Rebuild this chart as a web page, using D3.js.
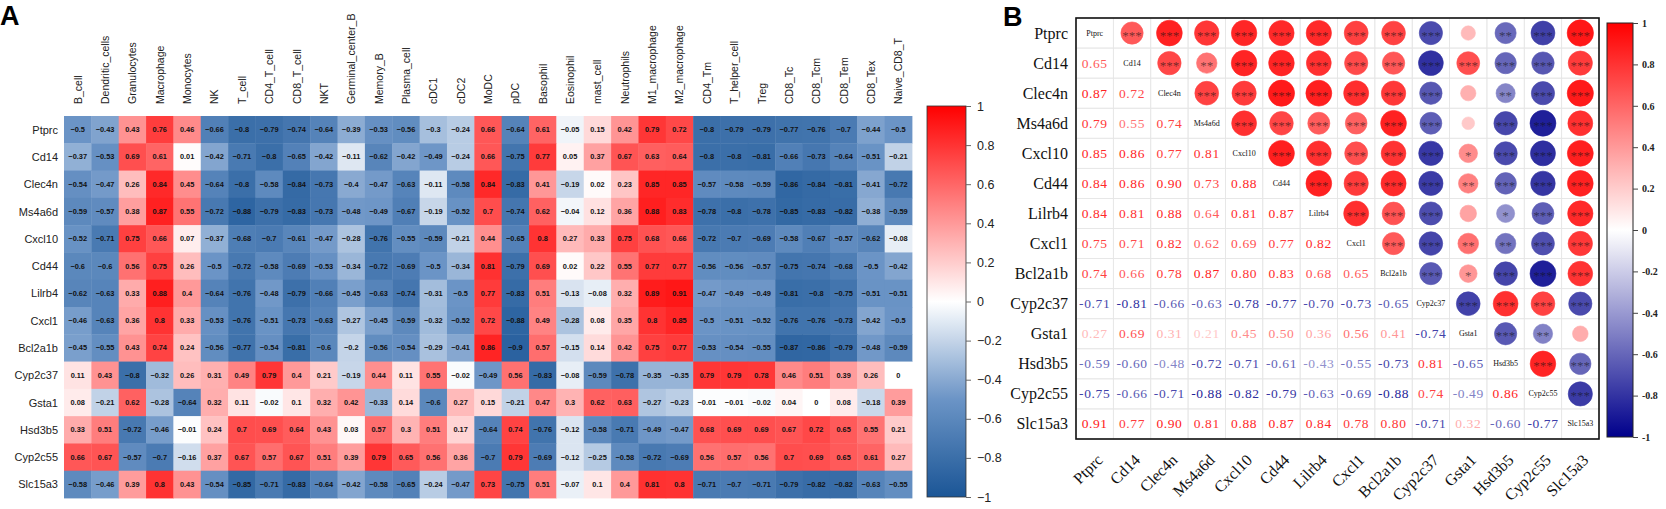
<!DOCTYPE html>
<html>
<head>
<meta charset="utf-8">
<script src="https://cdn.jsdelivr.net/npm/d3@7"></script>
<style>
	body { margin: 0; background: #fff; }
	svg { display: block; }
</style>
</head>
<body>
<svg id="main" width="1666" height="509"></svg>
<script>

// ---- data ----
const cellTypes = ['B_cell', 'Dendritic_cells', 'Granulocytes', 'Macrophage', 'Monocytes', 'NK',
	'T_cell', 'CD4_T_cell', 'CD8_T_cell', 'NKT', 'Germinal_center_B', 'Memory_B', 'Plasma_cell',
	'cDC1', 'cDC2', 'MoDC', 'pDC', 'Basophil', 'Eosinophil', 'mast_cell', 'Neutrophils',
	'M1_macrophage', 'M2_macrophage', 'CD4_Tm', 'T_helper_cell', 'Treg', 'CD8_Tc', 'CD8_Tcm',
	'CD8_Tem', 'CD8_Tex', 'Naive_CD8_T'];

const genes = ['Ptprc', 'Cd14', 'Clec4n', 'Ms4a6d', 'Cxcl10', 'Cd44', 'Lilrb4', 'Cxcl1',
	'Bcl2a1b', 'Cyp2c37', 'Gsta1', 'Hsd3b5', 'Cyp2c55', 'Slc15a3'];

// panel A: one row per gene, one value per cell type
const heatValues = [
	[-0.5, -0.43, 0.43, 0.76, 0.46, -0.66, -0.8, -0.79, -0.74, -0.64, -0.39, -0.53, -0.56, -0.3, -0.24, 0.66, -0.64, 0.61, -0.05, 0.15, 0.42, 0.79, 0.72, -0.8, -0.79, -0.79, -0.77, -0.76, -0.7, -0.44, -0.5],
	[-0.37, -0.53, 0.69, 0.61, 0.01, -0.42, -0.71, -0.8, -0.65, -0.42, -0.11, -0.62, -0.42, -0.49, -0.24, 0.66, -0.75, 0.77, 0.05, 0.37, 0.67, 0.63, 0.64, -0.8, -0.8, -0.81, -0.66, -0.73, -0.64, -0.51, -0.21],
	[-0.54, -0.47, 0.26, 0.84, 0.45, -0.64, -0.8, -0.58, -0.84, -0.73, -0.4, -0.47, -0.63, -0.11, -0.58, 0.84, -0.83, 0.41, -0.19, 0.02, 0.23, 0.85, 0.85, -0.57, -0.58, -0.59, -0.86, -0.84, -0.81, -0.41, -0.72],
	[-0.59, -0.57, 0.38, 0.87, 0.55, -0.72, -0.88, -0.79, -0.83, -0.73, -0.48, -0.49, -0.67, -0.19, -0.52, 0.7, -0.74, 0.62, -0.04, 0.12, 0.36, 0.88, 0.83, -0.78, -0.8, -0.78, -0.85, -0.83, -0.82, -0.38, -0.59],
	[-0.52, -0.71, 0.75, 0.66, 0.07, -0.37, -0.68, -0.7, -0.61, -0.47, -0.28, -0.76, -0.55, -0.59, -0.21, 0.44, -0.65, 0.8, 0.27, 0.33, 0.75, 0.68, 0.66, -0.72, -0.7, -0.69, -0.58, -0.67, -0.57, -0.62, -0.08],
	[-0.6, -0.6, 0.56, 0.75, 0.26, -0.5, -0.72, -0.58, -0.69, -0.53, -0.34, -0.72, -0.69, -0.5, -0.34, 0.81, -0.79, 0.69, 0.02, 0.22, 0.55, 0.77, 0.77, -0.56, -0.56, -0.57, -0.75, -0.74, -0.68, -0.5, -0.42],
	[-0.62, -0.63, 0.33, 0.88, 0.4, -0.64, -0.76, -0.48, -0.79, -0.66, -0.45, -0.63, -0.74, -0.31, -0.5, 0.77, -0.83, 0.51, -0.13, -0.08, 0.32, 0.89, 0.91, -0.47, -0.49, -0.49, -0.81, -0.8, -0.75, -0.51, -0.51],
	[-0.46, -0.63, 0.36, 0.8, 0.33, -0.53, -0.76, -0.51, -0.73, -0.63, -0.27, -0.45, -0.59, -0.32, -0.52, 0.72, -0.88, 0.49, -0.28, 0.08, 0.35, 0.8, 0.85, -0.5, -0.51, -0.52, -0.76, -0.76, -0.73, -0.42, -0.5],
	[-0.45, -0.55, 0.43, 0.74, 0.24, -0.56, -0.77, -0.54, -0.81, -0.6, -0.2, -0.56, -0.54, -0.29, -0.41, 0.86, -0.9, 0.57, -0.15, 0.14, 0.42, 0.75, 0.77, -0.53, -0.54, -0.55, -0.87, -0.86, -0.79, -0.48, -0.59],
	[0.11, 0.43, -0.8, -0.32, 0.26, 0.31, 0.49, 0.79, 0.4, 0.21, -0.19, 0.44, 0.11, 0.55, -0.02, -0.49, 0.56, -0.83, -0.08, -0.59, -0.78, -0.35, -0.35, 0.79, 0.79, 0.78, 0.46, 0.51, 0.39, 0.26, 0],
	[0.08, -0.21, 0.62, -0.28, -0.64, 0.32, 0.11, -0.02, 0.1, 0.32, 0.42, -0.33, 0.14, -0.6, 0.27, 0.15, -0.21, 0.47, 0.3, 0.62, 0.63, -0.27, -0.23, -0.01, -0.01, -0.02, 0.04, 0, 0.08, -0.18, 0.39],
	[0.33, 0.51, -0.72, -0.46, -0.01, 0.24, 0.7, 0.69, 0.64, 0.43, 0.03, 0.57, 0.3, 0.51, 0.17, -0.64, 0.74, -0.76, -0.12, -0.58, -0.71, -0.49, -0.47, 0.68, 0.69, 0.69, 0.67, 0.72, 0.65, 0.55, 0.21],
	[0.66, 0.67, -0.57, -0.7, -0.16, 0.37, 0.67, 0.57, 0.67, 0.51, 0.39, 0.79, 0.65, 0.56, 0.36, -0.7, 0.79, -0.69, -0.12, -0.25, -0.58, -0.72, -0.69, 0.56, 0.57, 0.56, 0.7, 0.69, 0.65, 0.61, 0.27],
	[-0.58, -0.46, 0.39, 0.8, 0.43, -0.54, -0.85, -0.71, -0.83, -0.64, -0.42, -0.58, -0.65, -0.24, -0.47, 0.73, -0.75, 0.51, -0.07, 0.1, 0.4, 0.81, 0.8, -0.71, -0.7, -0.71, -0.79, -0.82, -0.82, -0.63, -0.55]
];

// panel B: lower triangle of the gene-gene correlation matrix (row i holds columns 0..i-1)
const corrLower = [
	[0.65],
	[0.87, 0.72],
	[0.79, 0.55, 0.74],
	[0.85, 0.86, 0.77, 0.81],
	[0.84, 0.86, 0.90, 0.73, 0.88],
	[0.84, 0.81, 0.88, 0.64, 0.81, 0.87],
	[0.75, 0.71, 0.82, 0.62, 0.69, 0.77, 0.82],
	[0.74, 0.66, 0.78, 0.87, 0.80, 0.83, 0.68, 0.65],
	[-0.71, -0.81, -0.66, -0.63, -0.78, -0.77, -0.70, -0.73, -0.65],
	[0.27, 0.69, 0.31, 0.21, 0.45, 0.50, 0.36, 0.56, 0.41, -0.74],
	[-0.59, -0.60, -0.48, -0.72, -0.71, -0.61, -0.43, -0.55, -0.73, 0.81, -0.65],
	[-0.75, -0.66, -0.71, -0.88, -0.82, -0.79, -0.63, -0.69, -0.88, 0.74, -0.49, 0.86],
	[0.91, 0.77, 0.90, 0.81, 0.88, 0.87, 0.84, 0.78, 0.80, -0.71, 0.32, -0.60, -0.77]
];

// |r| cut-offs for *, **, ***
const starCuts = [0.40, 0.47, 0.60];

const legendTicks = [1, 0.8, 0.6, 0.4, 0.2, 0, -0.2, -0.4, -0.6, -0.8, -1];


main();

function main() {

	let svg = d3.select('#main');

	svg.append('rect')
		.attr('width', 1666)
		.attr('height', 509)
		.attr('fill', '#fff');

	drawHeatmap(svg);
	drawCorrplot(svg);
}

function drawHeatmap(svg) {

	let
		left = 64, top = 116,
		right = 912, bottom = 498;

	let x = d3.scaleBand().domain(cellTypes).range([left, right]);
	let y = d3.scaleBand().domain(genes).range([top, bottom]);

	let color = d3.scaleLinear()
		.domain([-1, -0.5, 0, 0.5, 1])
		.range(['#1b5696', '#6b94c6', '#ffffff', '#ff8080', '#ff0000'])
		.clamp(true);

	let cells = genes.flatMap((g, i) => cellTypes.map((c, j) => ({ gene: g, cell: c, value: heatValues[i][j] })));

	let g = svg.append('g');

	g.selectAll('.cell')
		.data(cells)
		.join('rect')
		.attr('class', 'cell')
		.attr('x', d => x(d.cell))
		.attr('y', d => y(d.gene))
		.attr('width', x.bandwidth() + 0.4)
		.attr('height', y.bandwidth() + 0.4)
		.attr('fill', d => color(d.value));

	g.selectAll('.num')
		.data(cells)
		.join('text')
		.attr('class', 'num')
		.attr('x', d => x(d.cell) + x.bandwidth() / 2)
		.attr('y', d => y(d.gene) + y.bandwidth() / 2)
		.attr('text-anchor', 'middle')
		.attr('dominant-baseline', 'central')
		.style('font', 'bold 7.4px "Liberation Sans", Arial, sans-serif')
		.attr('fill', '#111')
		.text(d => String(d.value).replace('-', '\u2212'));

	// row labels
	g.selectAll('.rowlab')
		.data(genes)
		.join('text')
		.attr('class', 'rowlab')
		.attr('x', left - 6)
		.attr('y', d => y(d) + y.bandwidth() / 2)
		.attr('text-anchor', 'end')
		.attr('dominant-baseline', 'central')
		.style('font', '11px "Liberation Sans", Arial, sans-serif')
		.attr('fill', '#222')
		.text(d => d);

	// column labels
	g.selectAll('.collab')
		.data(cellTypes)
		.join('text')
		.attr('class', 'collab')
		.attr('transform', d => `translate(${x(d) + x.bandwidth() / 2},${top - 12}) rotate(-90)`)
		.attr('dominant-baseline', 'central')
		.style('font', '10.5px "Liberation Sans", Arial, sans-serif')
		.attr('fill', '#222')
		.text(d => d);

	// legend
	let lx = 927, lw = 39, ly0 = 106, ly1 = 497;
	let grad = svg.append('defs').append('linearGradient')
		.attr('id', 'gradA')
		.attr('x1', 0).attr('y1', 1).attr('x2', 0).attr('y2', 0);
	d3.range(0, 1.0001, 0.05).forEach(t => {
		grad.append('stop')
			.attr('offset', t)
			.attr('stop-color', color(-1 + 2 * t));
	});

	svg.append('rect')
		.attr('x', lx).attr('y', ly0)
		.attr('width', lw).attr('height', ly1 - ly0)
		.attr('fill', 'url(#gradA)')
		.attr('stroke', '#333')
		.attr('stroke-width', 0.8);

	let ls = d3.scaleLinear().domain([-1, 1]).range([ly1, ly0]);
	let axis = svg.append('g')
		.attr('transform', `translate(${lx + lw},0)`)
		.call(d3.axisRight(ls).tickValues(legendTicks).tickSize(5).tickPadding(6).tickFormat(d3.format('')));
	axis.select('.domain').remove();
	axis.selectAll('line').attr('stroke', '#666');
	axis.selectAll('text')
		.style('font', '12.5px "Liberation Sans", Arial, sans-serif')
		.attr('fill', '#222');

	svg.append('text')
		.attr('x', 0)
		.attr('y', 25)
		.style('font', 'bold 27px "Liberation Sans", Arial, sans-serif')
		.attr('fill', '#000')
		.text('A');
}

function drawCorrplot(svg) {

	let
		left = 1076, top = 18,
		right = 1599, bottom = 439;

	let x = d3.scaleBand().domain(genes).range([left, right]);
	let y = d3.scaleBand().domain(genes).range([top, bottom]);

	let color = d3.scaleLinear()
		.domain([-1, 0, 1])
		.range(['#00008b', '#ffffff', '#ff0000'])
		.clamp(true);

	let corr = (i, j) => i == j ? 1 : (i > j ? corrLower[i - 1][j] : corrLower[j - 1][i]);

	let cells = [];
	genes.forEach((gi, i) => {
		genes.forEach((gj, j) => {
			cells.push({ row: gi, col: gj, i: i, j: j, value: corr(i, j) });
		});
	});

	let stars = v => {
		let a = Math.abs(v);
		return a >= starCuts[2] ? '***' : a >= starCuts[1] ? '**' : a >= starCuts[0] ? '*' : '';
	};

	let cx = d => x(d.col) + x.bandwidth() / 2;
	let cy = d => y(d.row) + y.bandwidth() / 2;

	let g = svg.append('g');

	// grid
	g.selectAll('.grid')
		.data(cells)
		.join('rect')
		.attr('class', 'grid')
		.attr('x', d => x(d.col))
		.attr('y', d => y(d.row))
		.attr('width', x.bandwidth())
		.attr('height', y.bandwidth())
		.attr('fill', 'none')
		.attr('stroke', '#e6e6e6')
		.attr('stroke-width', 0.8);

	let upper = cells.filter(d => d.j > d.i);
	let lower = cells.filter(d => d.j < d.i);
	let diag = cells.filter(d => d.j == d.i);

	g.selectAll('.dot')
		.data(upper)
		.join('circle')
		.attr('class', 'dot')
		.attr('cx', cx)
		.attr('cy', cy)
		.attr('r', d => 13.8 * Math.sqrt(Math.abs(d.value)))
		.attr('fill', d => color(d.value))
		.attr('stroke', d => color(d.value))
		.attr('stroke-width', 0.6);

	g.selectAll('.star')
		.data(upper)
		.join('text')
		.attr('class', 'star')
		.attr('x', cx)
		.attr('y', d => cy(d) + 6.5)
		.attr('text-anchor', 'middle')
		.style('font', '13px "Liberation Serif", "Times New Roman", serif')
		.attr('fill', '#111')
		.attr('fill-opacity', 0.6)
		.text(d => stars(d.value));

	g.selectAll('.coef')
		.data(lower)
		.join('text')
		.attr('class', 'coef')
		.attr('x', cx)
		.attr('y', cy)
		.attr('text-anchor', 'middle')
		.attr('dominant-baseline', 'central')
		.style('font', '13.5px "Liberation Serif", "Times New Roman", serif')
		.style('letter-spacing', '0.6px')
		.attr('fill', d => color(d.value))
		.text(d => d3.format('.2f')(d.value).replace('\u2212', '-'));

	g.selectAll('.diag')
		.data(diag)
		.join('text')
		.attr('class', 'diag')
		.attr('x', cx)
		.attr('y', cy)
		.attr('text-anchor', 'middle')
		.attr('dominant-baseline', 'central')
		.style('font', '8px "Liberation Serif", "Times New Roman", serif')
		.attr('fill', '#111')
		.text(d => d.row);

	g.append('rect')
		.attr('x', left).attr('y', top)
		.attr('width', right - left).attr('height', bottom - top)
		.attr('fill', 'none')
		.attr('stroke', '#111')
		.attr('stroke-width', 1.6);

	g.selectAll('.rowlab')
		.data(genes)
		.join('text')
		.attr('class', 'rowlab')
		.attr('x', left - 8)
		.attr('y', d => y(d) + y.bandwidth() / 2)
		.attr('text-anchor', 'end')
		.attr('dominant-baseline', 'central')
		.style('font', '16px "Liberation Serif", "Times New Roman", serif')
		.attr('fill', '#111')
		.text(d => d);

	g.selectAll('.collab')
		.data(genes)
		.join('text')
		.attr('class', 'collab')
		.attr('transform', d => `translate(${x(d) + x.bandwidth() / 2 + 9},${bottom + 22}) rotate(-45)`)
		.attr('text-anchor', 'end')
		.style('font', '16px "Liberation Serif", "Times New Roman", serif')
		.attr('fill', '#111')
		.text(d => d);

	// legend
	let lx = 1607, lw = 26, ly0 = 23, ly1 = 437;
	let grad = svg.select('defs').append('linearGradient')
		.attr('id', 'gradB')
		.attr('x1', 0).attr('y1', 1).attr('x2', 0).attr('y2', 0);
	d3.range(0, 1.0001, 0.05).forEach(t => {
		grad.append('stop')
			.attr('offset', t)
			.attr('stop-color', color(-1 + 2 * t));
	});

	svg.append('rect')
		.attr('x', lx).attr('y', ly0)
		.attr('width', lw).attr('height', ly1 - ly0)
		.attr('fill', 'url(#gradB)')
		.attr('stroke', '#222')
		.attr('stroke-width', 1);

	let ls = d3.scaleLinear().domain([-1, 1]).range([ly1, ly0]);
	let axis = svg.append('g')
		.attr('transform', `translate(${lx + lw},0)`)
		.call(d3.axisRight(ls).tickValues(legendTicks).tickSize(5).tickPadding(4).tickFormat(d => String(d)));
	axis.select('.domain').remove();
	axis.selectAll('line').attr('stroke', '#444');
	axis.selectAll('text')
		.style('font', 'bold 10px "Liberation Serif", "Times New Roman", serif')
		.attr('fill', '#222');

	svg.append('text')
		.attr('x', 1003)
		.attr('y', 26)
		.style('font', 'bold 27px "Liberation Sans", Arial, sans-serif')
		.attr('fill', '#000')
		.text('B');
}

</script>
</body>
</html>
